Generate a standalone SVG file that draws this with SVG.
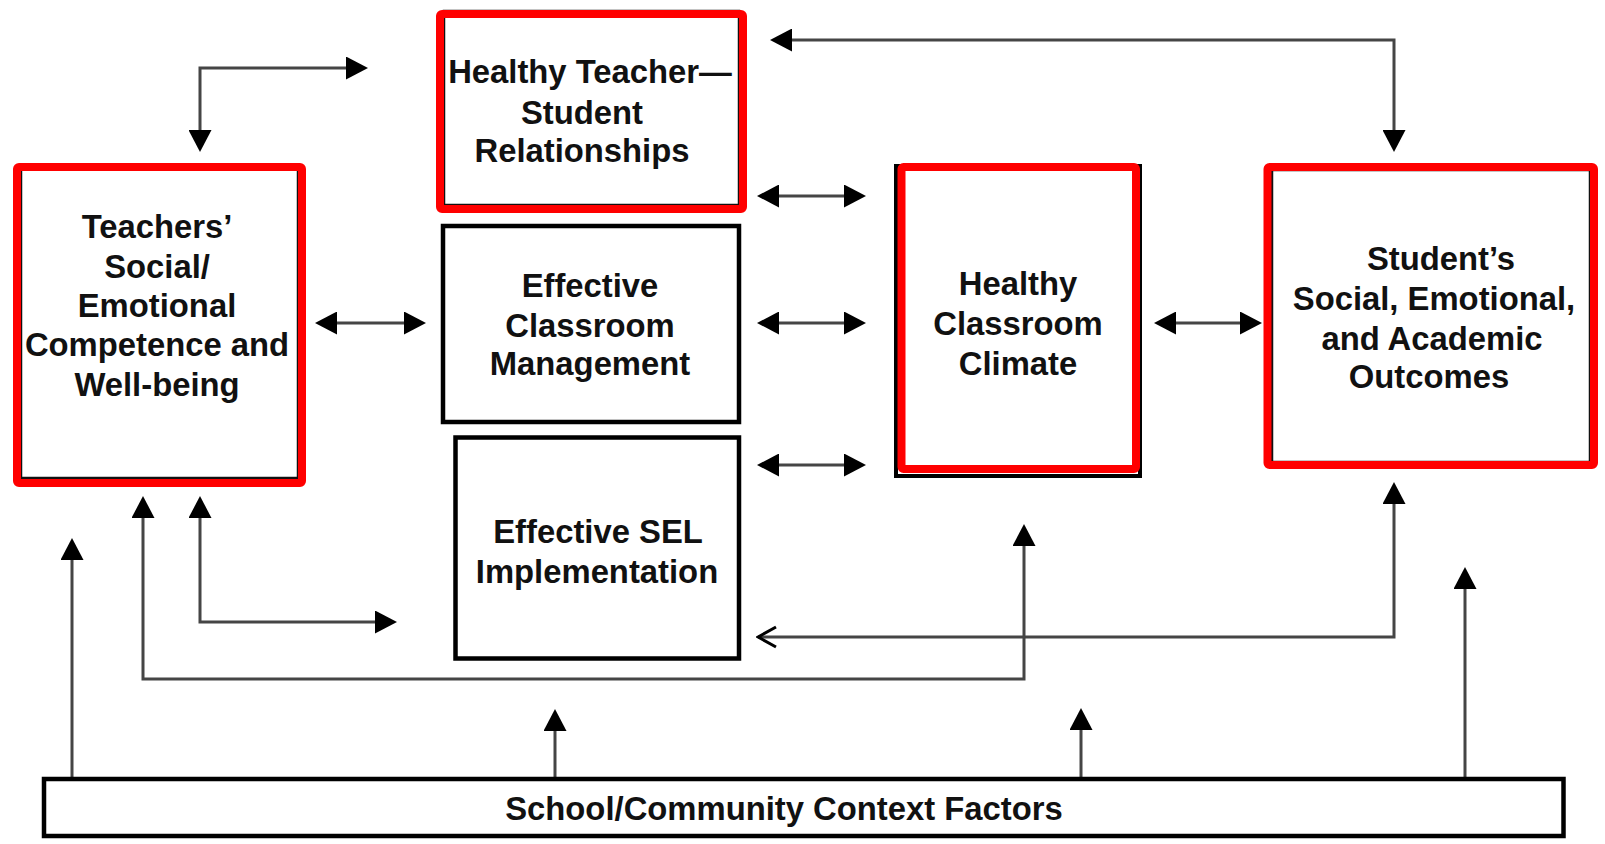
<svg xmlns="http://www.w3.org/2000/svg" width="1605" height="844" viewBox="0 0 1605 844">
<style>
.t{font-family:"Liberation Sans",Arial,sans-serif;font-weight:bold;font-size:32.8px;fill:#111;text-anchor:middle}
.c{fill:none;stroke:#454545;stroke-width:3}
.bk{fill:none;stroke:#000;stroke-width:4.5}
.bi{fill:none;stroke:#111;stroke-width:2.5}
.rd{fill:none;stroke:#ff0000;stroke-width:8}
</style>
<defs>
<marker id="ah" markerUnits="userSpaceOnUse" markerWidth="22" markerHeight="23" viewBox="0 0 22 23" refX="12" refY="11.5" orient="auto-start-reverse"><path d="M0,0 L22,11.5 L0,23 z" fill="#000"/></marker>
<marker id="oh" markerUnits="userSpaceOnUse" markerWidth="22" markerHeight="24" viewBox="0 0 22 24" refX="20" refY="12" orient="auto"><path d="M2,2 L20,12 L2,22" fill="none" stroke="#000" stroke-width="3"/></marker>
</defs>
<rect x="0" y="0" width="1605" height="844" fill="#fff"/>
<g id="connectors">
<path class="c" d="M200,142 L200,68 L358,68" marker-start="url(#ah)" marker-end="url(#ah)"/>
<path class="c" d="M780,40 L1394,40 L1394,142" marker-start="url(#ah)" marker-end="url(#ah)"/>
<path class="c" d="M767,196 L856,196" marker-start="url(#ah)" marker-end="url(#ah)"/>
<path class="c" d="M325,323 L416,323" marker-start="url(#ah)" marker-end="url(#ah)"/>
<path class="c" d="M767,323 L856,323" marker-start="url(#ah)" marker-end="url(#ah)"/>
<path class="c" d="M767,465 L856,465" marker-start="url(#ah)" marker-end="url(#ah)"/>
<path class="c" d="M1164,323 L1252,323" marker-start="url(#ah)" marker-end="url(#ah)"/>
<path class="c" d="M1394,492 L1394,637 L758,637" marker-start="url(#ah)" marker-end="url(#oh)"/>
<path class="c" d="M143,506 L143,679 L1024,679 L1024,534" marker-start="url(#ah)" marker-end="url(#ah)"/>
<path class="c" d="M200,506 L200,622 L387,622" marker-start="url(#ah)" marker-end="url(#ah)"/>
<path class="c" d="M72,777 L72,548" marker-end="url(#ah)"/>
<path class="c" d="M555,777 L555,719" marker-end="url(#ah)"/>
<path class="c" d="M1081,777 L1081,718" marker-end="url(#ah)"/>
<path class="c" d="M1465,777 L1465,577" marker-end="url(#ah)"/>
</g>
<g id="teachers">
<rect class="bi" x="21" y="169" width="277" height="309"/>
<rect class="rd" x="17" y="167" width="285" height="316" rx="2"/>
<text class="t" x="157" y="238">Teachers’</text>
<text class="t" x="157" y="278">Social/</text>
<text class="t" x="157" y="317">Emotional</text>
<text class="t" x="157" y="356">Competence and</text>
<text class="t" x="157" y="396">Well-being</text>
</g>
<g id="relationships">
<rect class="bi" x="444" y="11" width="295" height="194"/>
<rect class="rd" x="440" y="14" width="303" height="195" rx="2"/>
<text class="t" x="590" y="83">Healthy Teacher—</text>
<text class="t" x="582" y="124">Student</text>
<text class="t" x="582" y="162">Relationships</text>
</g>
<g id="management">
<rect class="bk" x="443" y="226" width="296" height="196"/>
<text class="t" x="590" y="297">Effective</text>
<text class="t" x="590" y="337">Classroom</text>
<text class="t" x="590" y="375">Management</text>
</g>
<g id="sel">
<rect class="bk" x="455.5" y="437.5" width="283.5" height="221"/>
<text class="t" x="598" y="543">Effective SEL</text>
<text class="t" x="597" y="583">Implementation</text>
</g>
<g id="climate">
<rect fill="none" stroke="#000" stroke-width="4" x="896" y="166" width="244" height="310"/>
<rect class="rd" x="901.5" y="167" width="234.5" height="302" rx="2"/>
<text class="t" x="1018" y="295">Healthy</text>
<text class="t" x="1018" y="335">Classroom</text>
<text class="t" x="1018" y="375">Climate</text>
</g>
<g id="outcomes">
<rect class="bi" x="1272" y="170" width="318" height="292"/>
<rect class="rd" x="1267.5" y="167" width="326.5" height="298" rx="2"/>
<text class="t" x="1441" y="270">Student’s</text>
<text class="t" x="1434" y="310">Social, Emotional,</text>
<text class="t" x="1432" y="350">and Academic</text>
<text class="t" x="1429" y="388">Outcomes</text>
</g>
<g id="context">
<rect class="bk" x="44" y="779" width="1519.5" height="57"/>
<text class="t" x="784" y="820">School/Community Context Factors</text>
</g>
</svg>
